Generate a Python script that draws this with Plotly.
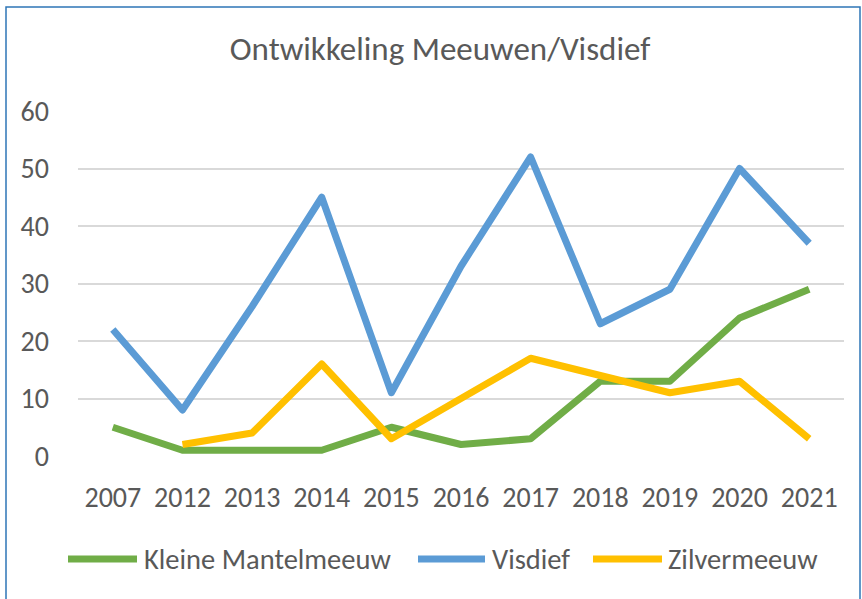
import plotly.graph_objects as go

years = ["2007", "2012", "2013", "2014", "2015", "2016", "2017", "2018", "2019", "2020", "2021"]
kleine_mantelmeeuw = [5, 1, 1, 1, 5, 2, 3, 13, 13, 24, 29]
visdief = [22, 8, 26, 45, 11, 33, 52, 23, 29, 50, 37]
zilvermeeuw = [None, 2, 4, 16, 3, 10, 17, 14, 11, 13, 3]

series_names = ["Kleine Mantelmeeuw", "Visdief", "Zilvermeeuw"]
series_colors = ["#70AD47", "#5B9BD5", "#FFC000"]

FONT = "Carlito, 'Liberation Sans Narrow', 'Open Sans', sans-serif"
TXT = "#595959"

W, H = 862, 599
L, R, T, B = 78, 844, 111, 456  # plot area in pixels
PW, PH = R - L, B - T


def px(x):
    return (x - L) / PW


def py(y):
    return (B - y) / PH


fig = go.Figure()
for name, vals, col in zip(series_names, [kleine_mantelmeeuw, visdief, zilvermeeuw], series_colors):
    fig.add_trace(go.Scatter(x=years, y=vals, name=name, mode="lines",
                             line=dict(color=col, width=7), showlegend=False))

# manual legend (long line keys like the original)
legend_items = [(68, 137, 142), (418, 485, 490), (593, 662, 666)]
shapes = [dict(type="rect", xref="paper", yref="paper",
               x0=px(6), x1=px(860), y0=py(610), y1=py(7),
               line=dict(color="#2E75B6", width=1.5), layer="below")]
annotations = []
LY = 559
for (x0, x1, tx), name, col in zip(legend_items, series_names, series_colors):
    shapes.append(dict(type="line", xref="paper", yref="paper",
                       x0=px(x0), x1=px(x1), y0=py(LY), y1=py(LY),
                       line=dict(color=col, width=7)))
    annotations.append(dict(text=name, xref="paper", yref="paper", x=px(tx), y=py(LY),
                            xanchor="left", yanchor="middle", showarrow=False,
                            font=dict(size=28.5, color=TXT, family=FONT)))

fig.update_layout(
    width=W, height=H,
    margin=dict(l=L, r=W - R, t=T, b=H - B),
    paper_bgcolor="white", plot_bgcolor="white",
    font=dict(family=FONT, color=TXT, size=28),
    title=dict(text="Ontwikkeling Meeuwen/Visdief", x=440 / W, xanchor="center",
               y=1 - 48 / H, yanchor="middle", font=dict(size=33, color=TXT)),
    xaxis=dict(type="category", range=[-0.5, len(years) - 0.5], showgrid=False,
               showline=False, ticks="", tickfont=dict(size=28, color=TXT),
               ticklabelstandoff=22, tickangle=0, automargin=False),
    yaxis=dict(range=[0, 60], dtick=10, showgrid=True, gridcolor="#D9D9D9", gridwidth=2,
               zeroline=False, showline=False, ticks="",
               tickfont=dict(size=28, color=TXT), ticklabelstandoff=28, automargin=False),
    showlegend=False,
    shapes=shapes,
    annotations=annotations,
)

post = ("document.body.style.margin='0px';"
        "var s=document.createElement('style');"
        "s.innerHTML='.js-line{stroke-linejoin:round !important;}';"
        "document.head.appendChild(s);")
fig.write_html("out.html", post_script=post, config={"displayModeBar": False})
